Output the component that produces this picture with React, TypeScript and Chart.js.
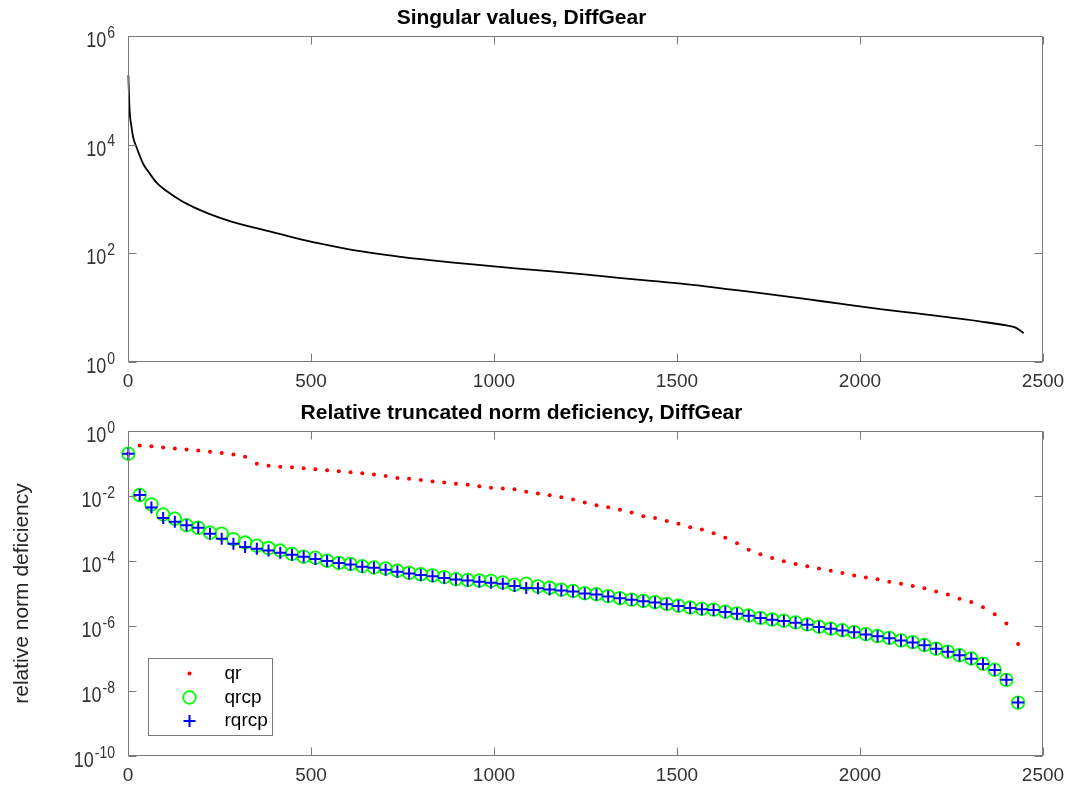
import React, { useEffect, useRef } from "react";
import { Chart, registerables } from "chart.js";

Chart.register(...registerables);

const FONT = "'Liberation Sans', Arial, Helvetica, sans-serif";
const AXIS_COLOR = "#7a7a7a";
const TICK_TEXT = "#333333";
const TICK_LEN = 8;

// ---------- data ----------
const xTickValues = [0, 500, 1000, 1500, 2000, 2500];
const topYExponents = [0, 2, 4, 6];
const bottomYExponents = [-10, -8, -6, -4, -2, 0];

const svIndex = [
  1, 3, 5, 9, 14, 23, 41, 60, 78, 115, 150, 179, 220, 270, 334, 400, 453, 516, 600, 699,
  800, 882, 1000, 1065, 1150, 1247, 1340, 1430, 1550, 1650, 1750, 1850, 1950, 2061, 2150,
  2244, 2335, 2400, 2425, 2440, 2447,
];
const svValues = [
  1.9e5, 7.1e4, 3.7e4, 2.24e4, 1.38e4, 9.1e3, 4.5e3, 2.9e3, 2.0e3, 1.26e3, 8.9e2, 7.1e2,
  5.4e2, 4.1e2, 3.09e2, 2.4e2, 1.95e2, 1.55e2, 1.2e2, 9.5e1, 7.8e1, 6.8e1, 5.75e1, 5.25e1,
  4.7e1, 4.1e1, 3.55e1, 3.1e1, 2.6e1, 2.15e1, 1.78e1, 1.45e1, 1.17e1, 9.3, 7.9, 6.6, 5.5,
  4.7, 4.3, 3.7, 3.4,
];

const sampleIndex = [
  1, 32, 64, 96, 128, 160, 192, 224, 256, 288, 320, 352, 384, 416, 448, 480, 512, 544, 576,
  608, 640, 672, 704, 736, 768, 800, 832, 864, 896, 928, 960, 992, 1024, 1056, 1088, 1120,
  1152, 1184, 1216, 1248, 1280, 1312, 1344, 1376, 1408, 1440, 1472, 1504, 1536, 1568, 1600,
  1632, 1664, 1696, 1728, 1760, 1792, 1824, 1856, 1888, 1920, 1952, 1984, 2016, 2048, 2080,
  2112, 2144, 2176, 2208, 2240, 2272, 2304, 2336, 2368, 2400, 2432,
];

const qrValues = [
  2.0e-1, 3.6e-1, 3.4e-1, 3.1e-1, 2.9e-1, 2.7e-1, 2.5e-1, 2.3e-1, 2.1e-1, 1.9e-1, 1.6e-1,
  9.8e-2, 8.5e-2, 7.9e-2, 7.6e-2, 7.1e-2, 6.6e-2, 6.2e-2, 5.8e-2, 5.4e-2, 5.0e-2, 4.6e-2,
  4.1e-2, 3.6e-2, 3.4e-2, 3.1e-2, 2.8e-2, 2.6e-2, 2.4e-2, 2.2e-2, 2.0e-2, 1.8e-2, 1.7e-2,
  1.6e-2, 1.35e-2, 1.2e-2, 1.05e-2, 9.1e-3, 7.8e-3, 6.3e-3, 5.2e-3, 4.5e-3, 3.8e-3, 3.1e-3,
  2.4e-3, 2.1e-3, 1.7e-3, 1.4e-3, 1.1e-3, 9.3e-4, 7.1e-4, 5.2e-4, 3.5e-4, 2.2e-4, 1.6e-4,
  1.23e-4, 9.8e-5, 8.1e-5, 6.9e-5, 5.9e-5, 5.0e-5, 4.3e-5, 3.6e-5, 3.1e-5, 2.75e-5, 2.3e-5,
  2.0e-5, 1.7e-5, 1.45e-5, 1.15e-5, 9.3e-6, 6.9e-6, 5.5e-6, 3.8e-6, 2.3e-6, 1.2e-6, 2.8e-7,
];

const qrcpValues = [
  2.0e-1, 1.07e-2, 5.5e-3, 2.7e-3, 2.0e-3, 1.26e-3, 1.05e-3, 7.4e-4, 6.9e-4, 4.7e-4, 3.7e-4,
  2.95e-4, 2.5e-4, 2.1e-4, 1.66e-4, 1.35e-4, 1.26e-4, 1.02e-4, 8.7e-5, 8.1e-5, 6.9e-5,
  6.3e-5, 5.9e-5, 5.0e-5, 4.3e-5, 3.9e-5, 3.6e-5, 3.2e-5, 2.75e-5, 2.6e-5, 2.5e-5, 2.45e-5,
  2.2e-5, 1.86e-5, 2.0e-5, 1.66e-5, 1.5e-5, 1.32e-5, 1.2e-5, 1.02e-5, 9.5e-6, 8.3e-6,
  7.2e-6, 6.5e-6, 5.9e-6, 5.4e-6, 4.8e-6, 4.2e-6, 3.7e-6, 3.4e-6, 3.2e-6, 2.75e-6, 2.45e-6,
  2.1e-6, 1.78e-6, 1.58e-6, 1.45e-6, 1.29e-6, 1.12e-6, 9.5e-7, 8.3e-7, 7.4e-7, 6.5e-7,
  5.6e-7, 4.9e-7, 4.3e-7, 3.6e-7, 3.2e-7, 2.6e-7, 2.0e-7, 1.62e-7, 1.26e-7, 1.0e-7, 6.9e-8,
  4.5e-8, 2.2e-8, 4.4e-9,
];

const rqrcpValues = [
  2.0e-1, 1.07e-2, 4.4e-3, 2.1e-3, 1.6e-3, 1.26e-3, 1.05e-3, 6.9e-4, 4.8e-4, 3.4e-4, 2.7e-4,
  2.4e-4, 2.1e-4, 1.78e-4, 1.55e-4, 1.35e-4, 1.15e-4, 1.0e-4, 8.7e-5, 7.8e-5, 6.6e-5,
  6.2e-5, 5.4e-5, 4.7e-5, 4.1e-5, 3.7e-5, 3.4e-5, 3.0e-5, 2.7e-5, 2.5e-5, 2.3e-5, 2.15e-5,
  2.0e-5, 1.7e-5, 1.48e-5, 1.45e-5, 1.32e-5, 1.23e-5, 1.15e-5, 1.0e-5, 9.3e-6, 8.1e-6,
  7.1e-6, 6.4e-6, 5.8e-6, 5.3e-6, 4.7e-6, 4.1e-6, 3.6e-6, 3.3e-6, 3.1e-6, 2.7e-6, 2.4e-6,
  2.05e-6, 1.75e-6, 1.55e-6, 1.42e-6, 1.27e-6, 1.1e-6, 9.3e-7, 8.2e-7, 7.3e-7, 6.4e-7,
  5.5e-7, 4.8e-7, 4.2e-7, 3.6e-7, 3.1e-7, 2.55e-7, 2.0e-7, 1.6e-7, 1.25e-7, 9.8e-8, 6.8e-8,
  4.4e-8, 2.2e-8, 4.4e-9,
];

const legendLabels = ["qr", "qrcp", "rqrcp"];

// ---------- helpers ----------
const toPoints = (xs: number[], ys: number[]) => xs.map((x, i) => ({ x, y: ys[i] }));

function drawPowerLabel(ctx: CanvasRenderingContext2D, xRight: number, y: number, exp: number) {
  const base = "10";
  const sup = String(exp);
  const stretch = 1.2;
  ctx.save();
  ctx.fillStyle = TICK_TEXT;
  ctx.textAlign = "left";
  ctx.textBaseline = "alphabetic";
  ctx.font = `18px ${FONT}`;
  const wb = ctx.measureText(base).width;
  ctx.font = `14px ${FONT}`;
  const ws = ctx.measureText(sup).width;
  const x0 = xRight - ws - wb - 1;
  ctx.save();
  ctx.translate(x0, y + 11);
  ctx.scale(1, stretch);
  ctx.font = `18px ${FONT}`;
  ctx.fillText(base, 0, 0);
  ctx.restore();
  ctx.save();
  ctx.translate(x0 + wb + 1, y + 1.5);
  ctx.scale(1, stretch);
  ctx.font = `14px ${FONT}`;
  ctx.fillText(sup, 0, 0);
  ctx.restore();
  ctx.restore();
}

function makeAxesPlugin(exps: number[]) {
  return {
    id: "matlabAxes",
    afterDraw(chart: any) {
      const { ctx, chartArea: a, scales } = chart;
      const xs = scales.x;
      const ys = scales.y;
      const L = Math.round(a.left) + 0.5;
      const R = Math.round(a.right) - 0.5;
      const T = Math.round(a.top) + 0.5;
      const B = Math.round(a.bottom) - 0.5;
      ctx.save();
      ctx.strokeStyle = AXIS_COLOR;
      ctx.lineWidth = 1;
      ctx.strokeRect(L, T, R - L, B - T);
      ctx.beginPath();
      for (const t of xs.ticks) {
        const px = Math.round(xs.getPixelForValue(t.value)) + 0.5;
        ctx.moveTo(px, B);
        ctx.lineTo(px, B - TICK_LEN);
        ctx.moveTo(px, T);
        ctx.lineTo(px, T + TICK_LEN);
      }
      for (const t of ys.ticks) {
        const py = Math.round(ys.getPixelForValue(t.value)) + 0.5;
        ctx.moveTo(L, py);
        ctx.lineTo(L + TICK_LEN, py);
        ctx.moveTo(R, py);
        ctx.lineTo(R - TICK_LEN, py);
      }
      ctx.stroke();
      ctx.restore();
      exps.forEach((e, i) => {
        const t = ys.ticks[i];
        if (!t) return;
        const py = ys.getPixelForValue(t.value);
        drawPowerLabel(ctx, a.left - 13, py, e);
      });
    },
  };
}

const legendPlugin = {
  id: "boxLegend",
  afterDraw(chart: any) {
    const { ctx, chartArea: a } = chart;
    const bx = Math.round(a.left) + 20.5;
    const by = Math.round(a.top) + 227.5;
    const bw = 124;
    const bh = 77;
    ctx.save();
    ctx.fillStyle = "#ffffff";
    ctx.fillRect(bx, by, bw, bh);
    ctx.strokeStyle = AXIS_COLOR;
    ctx.lineWidth = 1;
    ctx.strokeRect(bx, by, bw, bh);
    const rows = [15, 39, 62.5];
    const mx = bx + 41;
    const tx = bx + 76;
    chart.data.datasets.forEach((ds: any, i: number) => {
      const y = by + rows[i];
      ctx.save();
      if (ds.pointStyle === "cross") {
        ctx.strokeStyle = ds.borderColor;
        ctx.lineWidth = ds.borderWidth;
        const r = ds.pointRadius;
        ctx.beginPath();
        ctx.moveTo(mx - r, y);
        ctx.lineTo(mx + r, y);
        ctx.moveTo(mx, y - r);
        ctx.lineTo(mx, y + r);
        ctx.stroke();
      } else {
        ctx.beginPath();
        ctx.arc(mx, y, ds.pointRadius, 0, Math.PI * 2);
        if (ds.backgroundColor === "rgba(0,0,0,0)") {
          ctx.strokeStyle = ds.borderColor;
          ctx.lineWidth = ds.borderWidth;
          ctx.stroke();
        } else {
          ctx.fillStyle = ds.backgroundColor;
          ctx.fill();
        }
      }
      ctx.restore();
      ctx.fillStyle = "#000000";
      ctx.font = `19px ${FONT}`;
      ctx.textAlign = "left";
      ctx.textBaseline = "middle";
      ctx.fillText(legendLabels[i], tx, y);
    });
    ctx.restore();
  },
};

function xAxis(height: number) {
  return {
    type: "linear" as const,
    min: 0,
    max: 2500,
    afterBuildTicks: (s: any) => {
      s.ticks = xTickValues.map((v) => ({ value: v }));
    },
    afterFit: (s: any) => {
      s.height = height;
      s.paddingLeft = 0;
      s.paddingRight = 0;
    },
    grid: { display: false, drawTicks: false, tickLength: 0 },
    border: { display: false },
    ticks: {
      autoSkip: false,
      maxRotation: 0,
      padding: 8,
      color: TICK_TEXT,
      font: { family: FONT, size: 19 },
      callback: (v: any) => String(v),
    },
  };
}

function yAxis(exps: number[], title?: string) {
  return {
    type: "logarithmic" as const,
    min: Math.pow(10, exps[0]),
    max: Math.pow(10, exps[exps.length - 1]),
    afterBuildTicks: (s: any) => {
      s.ticks = exps.map((e) => ({ value: Math.pow(10, e) }));
    },
    afterFit: (s: any) => {
      s.width = 128;
      s.paddingTop = 0;
      s.paddingBottom = 0;
    },
    grid: { display: false, drawTicks: false },
    border: { display: false },
    ticks: { display: false },
    title: title
      ? {
          display: true,
          text: title,
          color: "#262626",
          font: { family: FONT, size: 21 },
          padding: { top: 10, bottom: 0 },
        }
      : { display: false },
  };
}

function titleOpts(text: string) {
  return {
    display: true,
    text,
    color: "#000000",
    font: { family: FONT, size: 21, weight: "bold" as const },
    padding: { top: 6, bottom: 4.8 },
  };
}

export default function App() {
  const topRef = useRef<HTMLCanvasElement>(null);
  const botRef = useRef<HTMLCanvasElement>(null);

  useEffect(() => {
    const top = new Chart(topRef.current!, {
      type: "scatter",
      data: {
        datasets: [
          {
            label: "singular values",
            data: toPoints(svIndex, svValues),
            showLine: true,
            pointRadius: 0,
            borderColor: "#000000",
            borderWidth: 1.8,
            cubicInterpolationMode: "monotone",
            clip: false as any,
          },
        ],
      },
      options: {
        animation: false,
        responsive: false,
        events: [],
        layout: { padding: { left: 0, right: 26, top: 0, bottom: 0 } },
        plugins: {
          legend: { display: false },
          tooltip: { enabled: false },
          title: titleOpts("Singular values, DiffGear"),
        },
        scales: {
          x: xAxis(33),
          y: yAxis(topYExponents),
        },
      },
      plugins: [makeAxesPlugin(topYExponents)],
    } as any);

    const bottom = new Chart(botRef.current!, {
      type: "scatter",
      data: {
        datasets: [
          {
            label: "qr",
            data: toPoints(sampleIndex, qrValues),
            pointStyle: "circle",
            pointRadius: 2,
            backgroundColor: "#ff0000",
            borderColor: "#ff0000",
            borderWidth: 0,
            order: 3,
            clip: false as any,
          },
          {
            label: "qrcp",
            data: toPoints(sampleIndex, qrcpValues),
            pointStyle: "circle",
            pointRadius: 6.3,
            backgroundColor: "rgba(0,0,0,0)",
            borderColor: "#00ff00",
            borderWidth: 1.8,
            order: 2,
            clip: false as any,
          },
          {
            label: "rqrcp",
            data: toPoints(sampleIndex, rqrcpValues),
            pointStyle: "cross",
            pointRadius: 6,
            backgroundColor: "#0000ff",
            borderColor: "#0000ff",
            borderWidth: 2,
            order: 1,
            clip: false as any,
          },
        ],
      },
      options: {
        animation: false,
        responsive: false,
        events: [],
        layout: { padding: { left: 0, right: 26, top: 0, bottom: 0 } },
        plugins: {
          legend: { display: false },
          tooltip: { enabled: false },
          title: titleOpts("Relative truncated norm deficiency, DiffGear"),
        },
        scales: {
          x: xAxis(34),
          y: yAxis(bottomYExponents, "relative norm deficiency"),
        },
      },
      plugins: [makeAxesPlugin(bottomYExponents), legendPlugin],
    } as any);

    return () => {
      top.destroy();
      bottom.destroy();
    };
  }, []);

  return (
    <div
      style={{
        position: "absolute",
        left: 0,
        top: 0,
        width: 1069,
        height: 790,
        background: "#ffffff",
        overflow: "hidden",
      }}
    >
      <canvas
        ref={topRef}
        width={1069}
        height={395}
        style={{ position: "absolute", left: 0, top: 0, width: 1069, height: 395 }}
      />
      <canvas
        ref={botRef}
        width={1069}
        height={395}
        style={{ position: "absolute", left: 0, top: 395, width: 1069, height: 395 }}
      />
    </div>
  );
}
